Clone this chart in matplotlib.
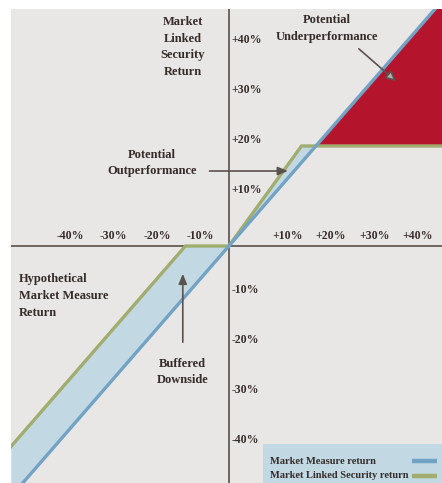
import numpy as np
import matplotlib
matplotlib.use("Agg")
import matplotlib.pyplot as plt
from matplotlib.patches import Rectangle

# payoff parameters (percent)
buffer_pct = 10
cap_pct = 20
leverage = 1.2

x_ticks = [-40, -30, -20, -10, 10, 20, 30, 40]
x_labels = ["-40%", "-30%", "-20%", "-10%", "+10%", "+20%", "+30%", "+40%"]
y_ticks = [40, 30, 20, 10, -10, -20, -30, -40]
y_labels = ["+40%", "+30%", "+20%", "+10%", "-10%", "-20%", "-30%", "-40%"]
legend_labels = ["Market Measure return", "Market Linked Security return"]

BG = "#e9e7e6"
BLUE = "#72a3c5"
LIGHT_BLUE = "#c2d8e3"
GREEN = "#a1ad6e"
RED = "#b5142d"
AXIS = "#6e6661"
TXT = "#342c29"
FONT = "Liberation Serif"

x_min, x_max = -50.1, 49.0
y_min, y_max = -47.4, 47.4


def security_return(x):
    up = np.minimum(leverage * x, cap_pct)
    down = np.minimum(x + buffer_pct, 0)
    return np.where(x >= 0, up, down)


x = np.linspace(x_min, x_max, 2001)
market = x
security = security_return(x)

fig = plt.figure(figsize=(4.42, 4.83), dpi=100, facecolor="white")
ax = fig.add_axes([11 / 442, 0, 431 / 442, 474 / 483])
ax.set_facecolor(BG)
ax.set_xlim(x_min, x_max)
ax.set_ylim(y_min, y_max)
for s in ax.spines.values():
    s.set_visible(False)
ax.set_xticks([])
ax.set_yticks([])

ax.axhline(0, color=AXIS, lw=1.4, zorder=1)
ax.axvline(0, color=AXIS, lw=1.4, zorder=1)

ax.fill_between(x, security, market, where=security >= market, interpolate=True,
                color=LIGHT_BLUE, lw=0, zorder=2)
ax.fill_between(x, security, market, where=market >= security, interpolate=True,
                color=RED, lw=0, zorder=2)
ax.plot(x, security, color=GREEN, lw=2.4, zorder=3, solid_joinstyle="miter")
ax.plot(x, market, color=BLUE, lw=2.4, zorder=4)

for t, lab in zip(x_ticks, x_labels):
    ax.annotate(lab, xy=(t, 0), xytext=(11, 7.5), textcoords="offset points",
                ha="center", va="center", fontsize=8.5, family=FONT,
                weight="bold", color=TXT)
for t, lab in zip(y_ticks, y_labels):
    ax.annotate(lab, xy=(0, t), xytext=(2, 4.0), textcoords="offset points",
                ha="left", va="center", fontsize=8.5, family=FONT,
                weight="bold", color=TXT)

txt = dict(fontsize=9, family=FONT, weight="bold", color=TXT, va="center",
           linespacing=1.55)
ax.text(-10.6, 39.8, "Market\nLinked\nSecurity\nReturn", ha="center", **txt)
ax.text(22.5, 43.5, "Potential\nUnderperformance", ha="center", **txt)
ax.text(-17.7, 16.6, "Potential\nOutperformance", ha="center", **txt)
ax.text(-48.3, -10.0, "Hypothetical\nMarket Measure\nReturn", ha="left", **txt)
ax.text(-10.6, -25.2, "Buffered\nDownside", ha="center", **txt)

ax.annotate("", xy=(38.9, 32.6), xytext=(29.4, 39.8),
            arrowprops=dict(arrowstyle="-|>,head_length=0.6,head_width=0.3",
                            color="#5a524e", fc="#b3ada8", lw=1.2), zorder=5)
ax.annotate("", xy=(14.2, 15.0), xytext=(-5.1, 15.0),
            arrowprops=dict(arrowstyle="-|>,head_length=0.6,head_width=0.25",
                            color="#5a524e", lw=1.2), zorder=5)
ax.annotate("", xy=(-10.6, -5.0), xytext=(-10.6, -19.8),
            arrowprops=dict(arrowstyle="-|>,head_length=0.6,head_width=0.25",
                            color="#5a524e", lw=1.2), zorder=5)

# legend box in the bottom-right corner
ax.add_patch(Rectangle((0.585, 0), 0.415, 0.082, transform=ax.transAxes,
                       color=LIGHT_BLUE, lw=0, zorder=6))
for i, (lab, col) in enumerate(zip(legend_labels, [BLUE, GREEN])):
    yy = 0.046 - i * 0.031
    ax.text(0.601, yy, lab, transform=ax.transAxes, ha="left", va="center",
            fontsize=7.5, family=FONT, weight="bold", color=TXT, zorder=7)
    ax.plot([0.930, 0.988], [yy, yy], transform=ax.transAxes, color=col,
            lw=3.2, solid_capstyle="butt", zorder=7, clip_on=False)

fig.savefig("out.png", dpi=100, facecolor="white")
